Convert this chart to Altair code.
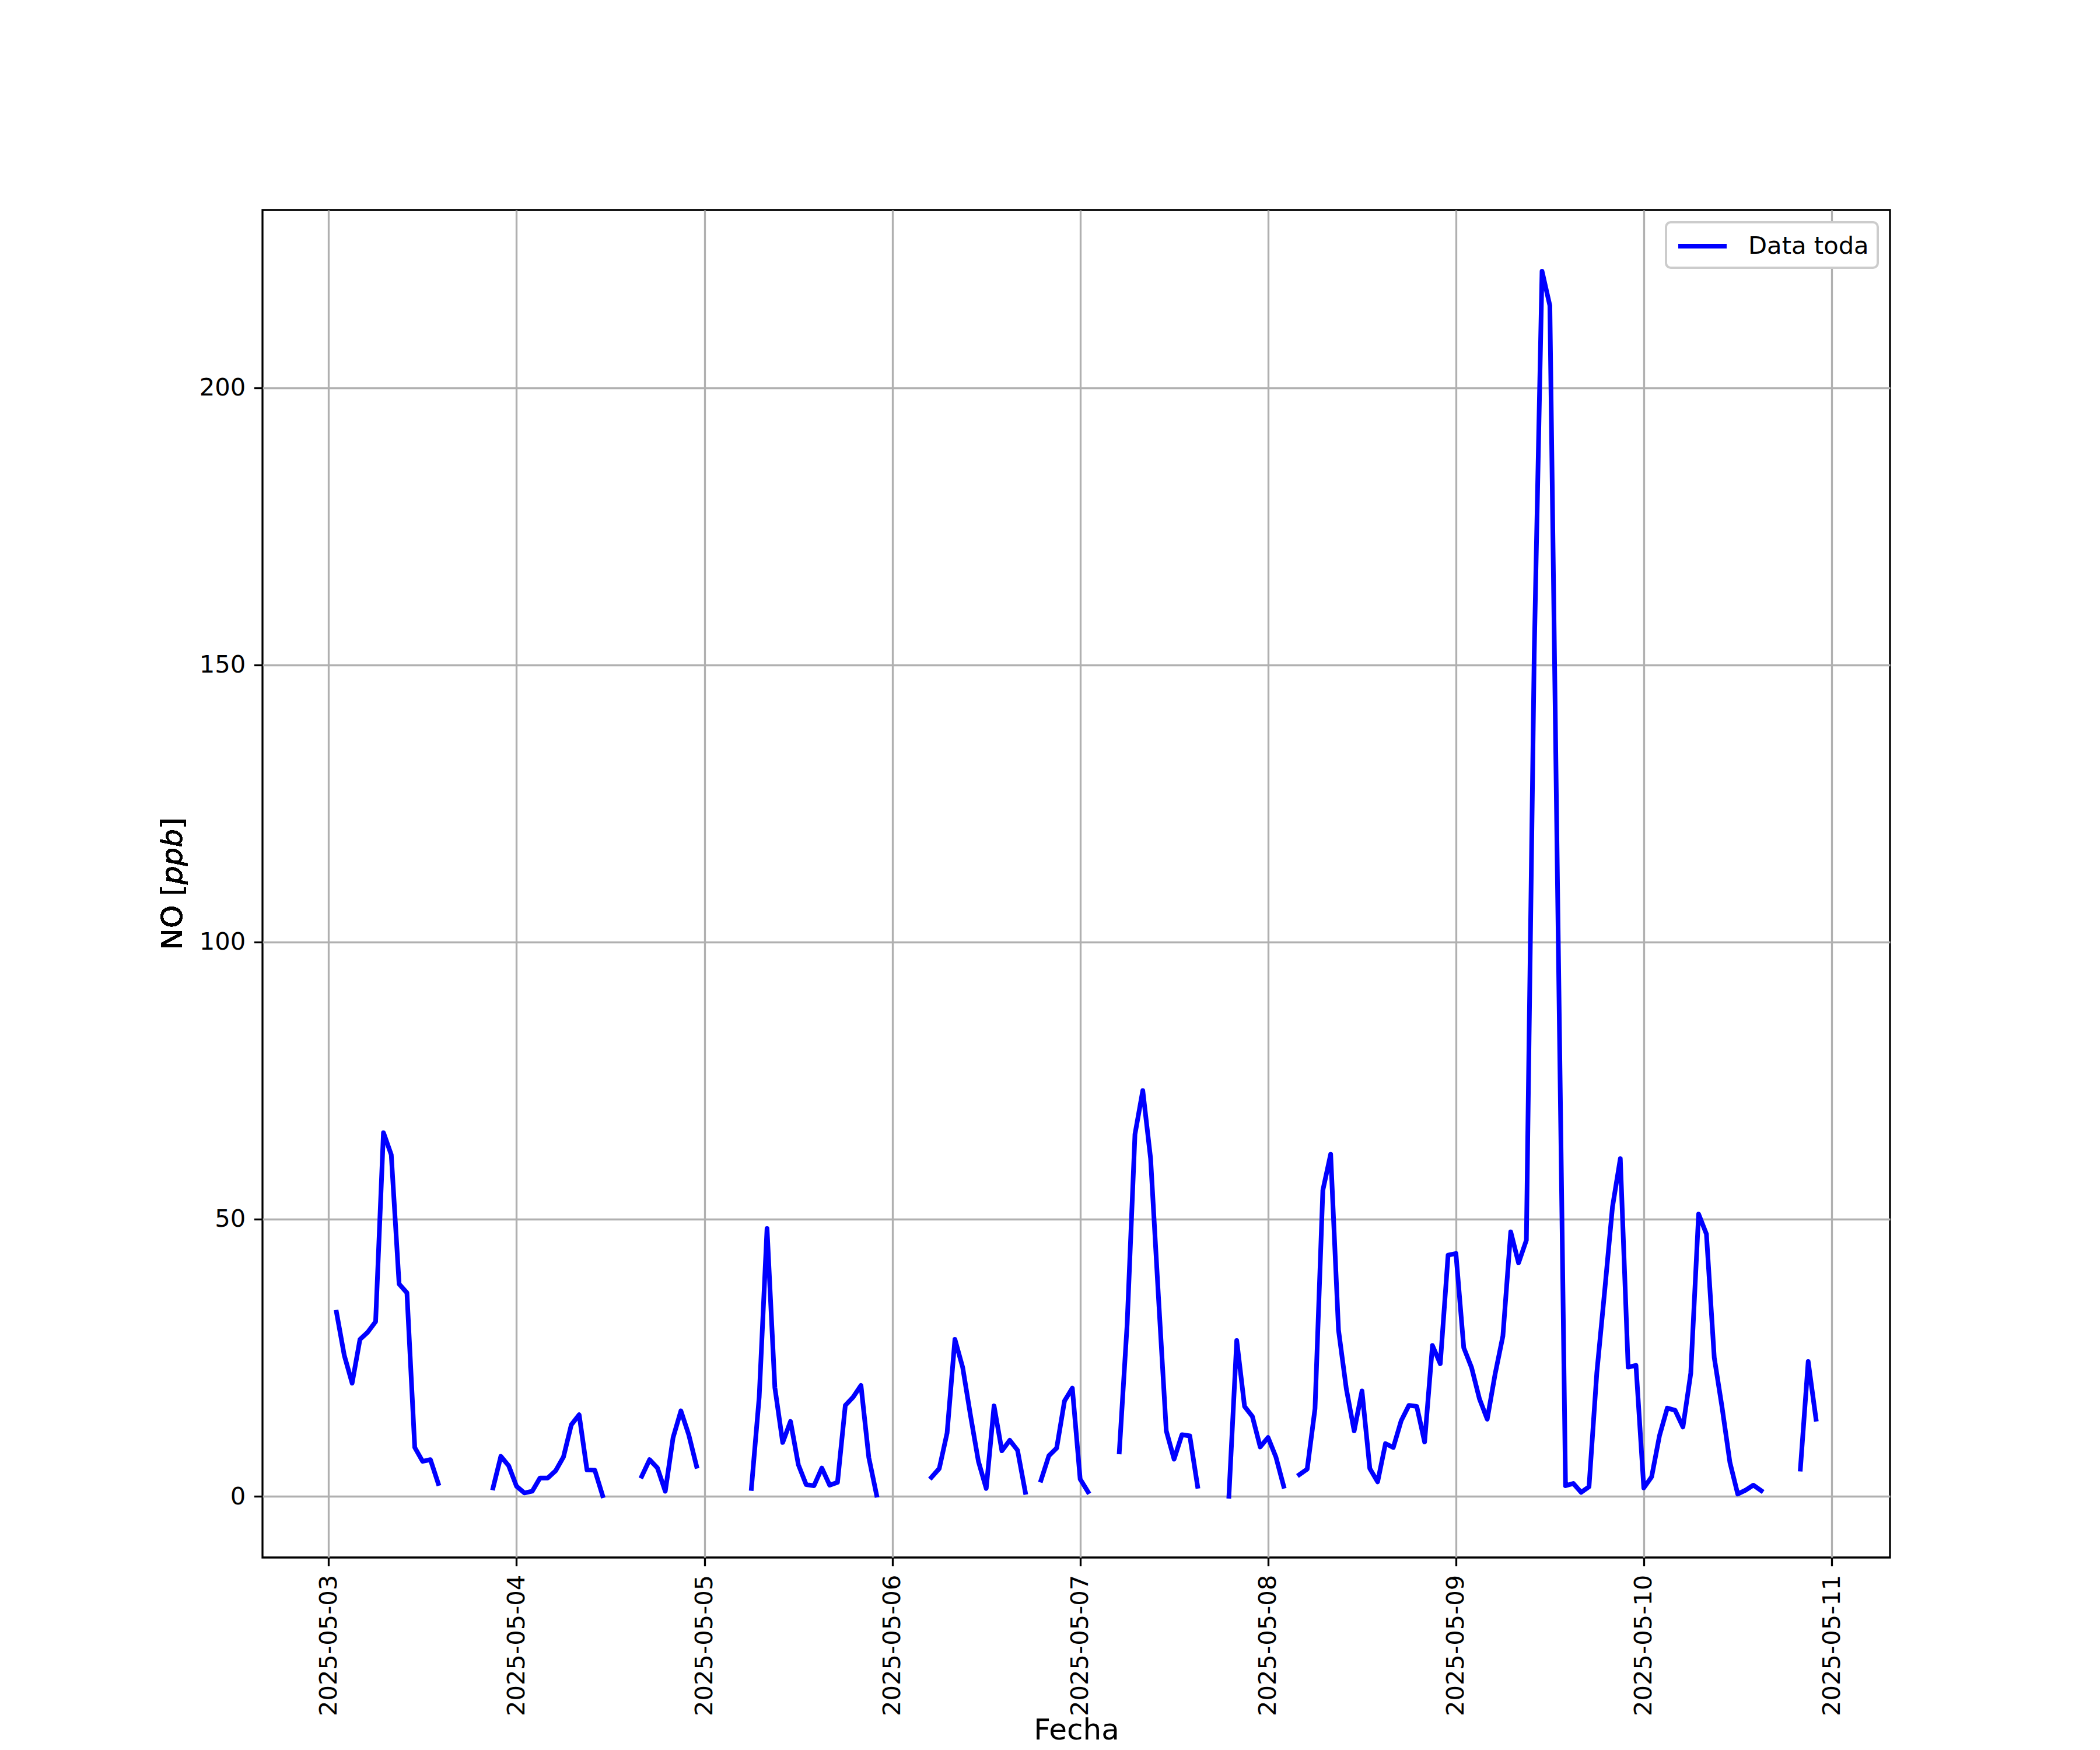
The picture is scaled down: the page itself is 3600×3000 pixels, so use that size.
import altair as alt
import pandas as pd

N = None
# Hourly NO values (ppb), one list per day, 00:00 .. 23:00; None = missing
may03 = [N, 33.2, 25.4, 20.4, 28.3, 29.6, 31.5, 65.6, 61.6, 38.3, 36.7, 8.8, 6.3, 6.6, 2.3, N, N, N, N, N, N, 1.5, 7.2, 5.5]
may04 = [1.8, 0.6, 0.9, 3.3, 3.3, 4.6, 7.1, 12.9, 14.7, 4.75, 4.7, 0.1, N, N, N, N, 3.6, 6.6, 5.1, 0.9, 10.6, 15.4, 11.1, 5.4]
may05 = [N, N, N, N, N, N, 1.4, 17.9, 48.3, 19.6, 9.7, 13.5, 5.7, 2.1, 1.9, 5.1, 2.0, 2.5, 16.4, 17.9, 20.0, 7.0, 0.2, N]
may06 = [N, N, N, N, N, 3.4, 5.0, 11.4, 28.3, 23.2, 14.5, 6.3, 1.4, 16.3, 8.2, 10.1, 8.3, 0.7, N, 2.9, 7.3, 8.7, 17.2, 19.5]
may07 = [3.1, 0.8, N, N, N, 8.0, 31.0, 65.3, 73.2, 60.9, 36.0, 11.8, 6.7, 11.1, 10.9, 1.8, N, N, N, 0.0, 28.1, 16.2, 14.4, 8.9]
may08 = [10.6, 7.1, 1.8, N, 3.9, 4.9, 15.8, 55.2, 61.7, 30.0, 19.4, 11.8, 19.0, 5.0, 2.6, 9.5, 8.8, 13.6, 16.4, 16.2, 9.8, 27.2, 23.9, 43.5]
may09 = [43.8, 26.8, 23.2, 17.6, 13.9, 22.0, 28.9, 47.7, 42.1, 46.2, 151.8, 221.0, 214.8, 108.0, 1.9, 2.3, 0.7, 1.7, 22.3, 37.0, 52.2, 60.9, 23.3, 23.6]
may10 = [1.5, 3.5, 10.9, 15.9, 15.5, 12.5, 22.2, 50.9, 47.3, 25.0, 16.0, 6.1, 0.4, 1.1, 2.0, 1.0, N, N, N, N, 4.9, 24.3, 13.9, N]

days = [(3, may03), (4, may04), (5, may05), (6, may06), (7, may07), (8, may08), (9, may09), (10, may10)]
tick_days = [3, 4, 5, 6, 7, 8, 9, 10, 11]
y_ticks = [0, 50, 100, 150, 200]
series_name = "Data toda"

rows = []
seg = 0
prev_nan = True
for d, vals in days:
    for h, v in enumerate(vals):
        if v is None:
            if not prev_nan:
                seg += 1
            prev_nan = True
            continue
        prev_nan = False
        rows.append({"t": f"2025-05-{d:02d}T{h:02d}:00:00", "v": v, "seg": seg, "serie": series_name})
df = pd.DataFrame(rows)

FONT = "DejaVu Sans"
TICK = 41.7
TITLE = 50

x_axis = alt.Axis(
    values=[alt.DateTime(year=2025, month=5, date=d) for d in tick_days],
    format="%Y-%m-%d", labelAngle=270, labelAlign="right", labelBaseline="middle",
    title="Fecha", titleY=271, titleBaseline="top", grid=True,
)
y_axis = alt.Axis(values=y_ticks, title="", grid=True)

line = alt.Chart(df).mark_line(strokeWidth=8, strokeJoin="round", strokeCap="square").encode(
    x=alt.X("t:T", axis=x_axis, scale=alt.Scale(
        domain=[alt.DateTime(year=2025, month=5, date=2, hours=15, minutes=33),
                alt.DateTime(year=2025, month=5, date=11, hours=7, minutes=27)], nice=False)),
    y=alt.Y("v:Q", axis=y_axis, scale=alt.Scale(domain=[-11.05, 232.05], nice=False, zero=False)),
    color=alt.Color("serie:N", scale=alt.Scale(domain=[series_name], range=["#0000ff"]),
                    legend=alt.Legend(title=None, orient="top-right")),
    detail="seg:N",
)

def ytitle(txt, ypos, italic=False):
    kw = dict(text=txt, angle=270, align="left", baseline="bottom", font=FONT, fontSize=TITLE, color="black")
    if italic:
        kw["fontStyle"] = "italic"
    return alt.Chart(df).mark_text(**kw).encode(x=alt.value(-128), y=alt.value(ypos))

t1 = ytitle("NO [", 1268.5)
t2 = ytitle("ppb", 1156.3, italic=True)
t3 = ytitle("]", 1061.0)

chart = alt.layer(line, t1, t2, t3).properties(
    width=2790, height=2310,
    autosize=alt.AutoSizeParams(type="none"),
    padding={"left": 442, "top": 352, "right": 352, "bottom": 326},
    background="white",
).configure_view(
    stroke="black", strokeWidth=3.3, fill="white"
).configure_axis(
    labelFont=FONT, titleFont=FONT, labelFontSize=TICK, titleFontSize=TITLE,
    labelColor="black", titleColor="black", titleFontWeight="normal",
    domain=False, tickColor="black", tickWidth=3.3, tickSize=14.6, labelPadding=14.6,
    gridColor="#b0b0b0", gridWidth=3.3, gridOpacity=1, labelLimit=0,
).configure_legend(
    labelFont=FONT, labelFontSize=TICK, labelColor="black", labelLimit=0,
    fillColor="white", strokeColor="#cccccc", strokeWidth=4, cornerRadius=8,
    padding=15, offset=21, symbolType="M-0.909,0H2.864", symbolSize=1936, symbolStrokeWidth=8,
    labelOffset=74,
)

chart.save("out.html", embed_options={"renderer": "svg", "actions": False})
